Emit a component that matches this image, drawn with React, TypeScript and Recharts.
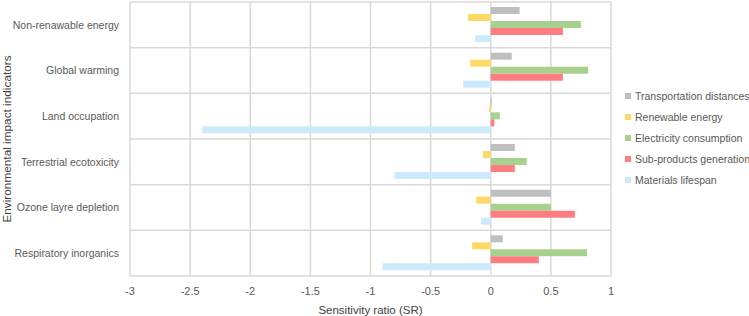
import React from "react";
import { BarChart, Bar, XAxis, YAxis, CartesianGrid } from "recharts";

const indicators = [
  "Non-renawable energy",
  "Global warming",
  "Land occupation",
  "Terrestrial ecotoxicity",
  "Ozone layre depletion",
  "Respiratory inorganics",
];

const transportation = [0.24, 0.175, 0.01, 0.2, 0.5, 0.1];
const renewable = [-0.19, -0.17, -0.013, -0.065, -0.12, -0.155];
const electricity = [0.75, 0.81, 0.075, 0.3, 0.5, 0.8];
const subProducts = [0.6, 0.6, 0.03, 0.2, 0.7, 0.4];
const lifespan = [-0.13, -0.23, -2.4, -0.8, -0.08, -0.9];

const xTicks = [-3, -2.5, -2, -1.5, -1, -0.5, 0, 0.5, 1];

const series = [
  { key: "Transportation distances", values: transportation, color: "#bfbfbf" },
  { key: "Renewable energy", values: renewable, color: "#ffd966" },
  { key: "Electricity consumption", values: electricity, color: "#a9d18e" },
  { key: "Sub-products generation", values: subProducts, color: "#ff7c80" },
  { key: "Materials lifespan", values: lifespan, color: "#cdeafc" },
];

const data = indicators.map((name, i) => {
  const row: Record<string, any> = { name };
  series.forEach((s) => {
    row[s.key] = s.values[i];
  });
  return row;
});

const FONT = "'Liberation Sans', Arial, sans-serif";
const TEXT = "#595959";
const FS = 10.5;

// category labels, kept on one line and right-aligned
function IndicatorTick(props: any) {
  const { x, y, payload } = props;
  return (
    <text
      x={x}
      y={y}
      dy="0.35em"
      textAnchor="end"
      fill={TEXT}
      fontSize={FS}
      fontFamily={FONT}
    >
      {payload.value}
    </text>
  );
}

function SeriesLegend() {
  return (
    <div
      style={{
        position: "absolute",
        left: 625,
        top: 85,
        fontFamily: FONT,
        fontSize: FS,
        color: TEXT,
        whiteSpace: "nowrap",
      }}
    >
      {series.map((s) => (
        <div
          key={s.key}
          style={{ display: "flex", alignItems: "center", height: 21 }}
        >
          <span
            style={{
              display: "inline-block",
              width: 6,
              height: 6,
              background: s.color,
              marginRight: 4,
            }}
          />
          {s.key}
        </div>
      ))}
    </div>
  );
}

export default function App() {
  return (
    <div
      style={{
        position: "absolute",
        left: 0,
        top: 0,
        width: 749,
        height: 316,
        background: "#fff",
      }}
    >
      <BarChart
        width={749}
        height={316}
        data={data}
        layout="vertical"
        margin={{ top: 2, right: 138, left: 0, bottom: 0 }}
        barCategoryGap={5}
        barGap={0}
      >
        <CartesianGrid
          stroke="#d9d9d9"
          strokeWidth={1.5}
          horizontalCoordinatesGenerator={({ offset }: any) =>
            Array.from(
              { length: indicators.length + 1 },
              (_, i) => offset.top + (i * offset.height) / indicators.length
            )
          }
        />
        <XAxis
          type="number"
          domain={[-3, 1]}
          ticks={xTicks}
          allowDataOverflow
          axisLine={false}
          tickLine={false}
          tickMargin={5}
          height={40}
          tick={{ fill: TEXT, fontSize: 11, fontFamily: FONT }}
          label={{
            value: "Sensitivity ratio (SR)",
            position: "insideBottom",
            offset: 2,
            fill: "#404040",
            fontSize: 11.5,
            fontFamily: FONT,
          }}
        />
        <YAxis
          type="category"
          dataKey="name"
          width={130}
          axisLine={false}
          tickLine={false}
          tickMargin={5}
          tick={<IndicatorTick />}
          label={{
            value: "Environmental impact indicators",
            angle: -90,
            position: "center",
            dx: -58,
            fill: "#404040",
            fontSize: 11.8,
            fontFamily: FONT,
          }}
        />
        {series.map((s) => (
          <Bar
            key={s.key}
            dataKey={s.key}
            fill={s.color}
            isAnimationActive={false}
          />
        ))}
      </BarChart>
      <SeriesLegend />
    </div>
  );
}
